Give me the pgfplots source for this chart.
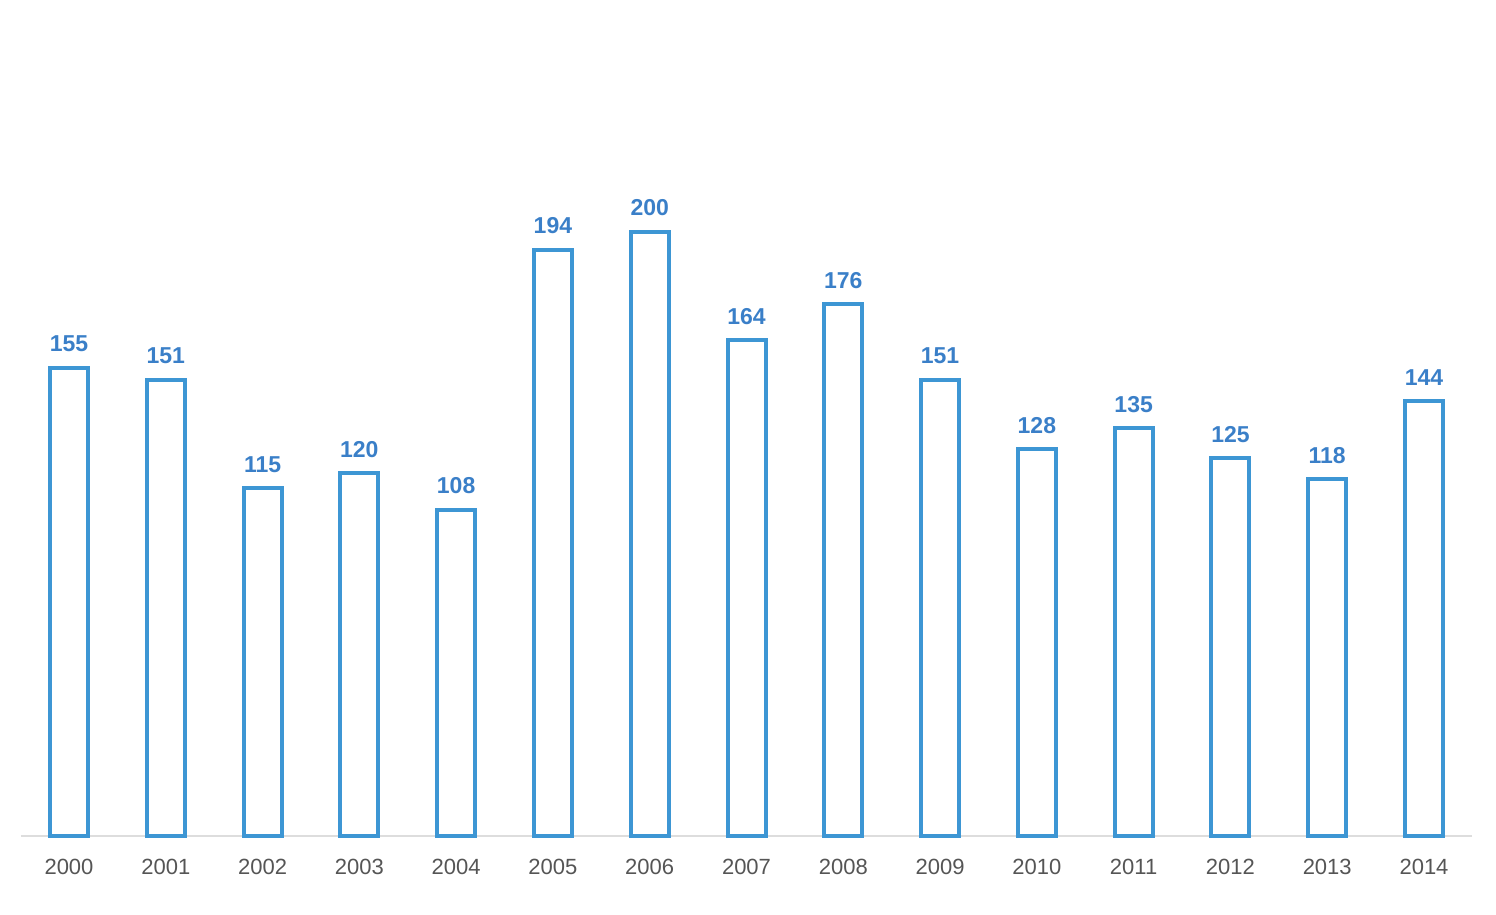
\documentclass[border=0pt]{standalone}
\usepackage{pgfplots}
\pgfplotsset{compat=1.18}
\usepackage{fontspec}
\setmainfont{Liberation Sans}
\definecolor{barblue}{HTML}{3D96D4}
\definecolor{lblblue}{HTML}{3A7FC8}
\definecolor{ticktext}{HTML}{555555}
\definecolor{axisgray}{HTML}{DDDDDD}
\begin{document}
\begin{tikzpicture}
\useasboundingbox (0,0) rectangle (748pt,457.5pt);
\begin{axis}[
  at={(10.3pt,39.5pt)}, anchor=south west,
  scale only axis, width=725.9pt, height=415.5pt,
  xmin=-0.5, xmax=14.5, ymin=0, ymax=275,
  axis x line=bottom, axis y line=none,
  x axis line style={-, axisgray, line width=0.8pt},
  xtick=data,
  xticklabels={2000,2001,2002,2003,2004,2005,2006,2007,2008,2009,2010,2011,2012,2013,2014},
  xticklabel style={font=\fontsize{11}{13}\selectfont, text=ticktext, yshift=-8pt},
  major tick length=0pt,
  /pgf/number format/assume math mode=true,
  ybar, bar width=19pt, bar shift=0pt,
  nodes near coords,
  every node near coord/.append style={font=\bfseries\fontsize{11.5}{13}\selectfont, text=lblblue, yshift=3.5pt},
  clip=false,
]
\addplot[draw=barblue, fill=white, line width=2pt] coordinates {
(0,155) (1,151) (2,115) (3,120) (4,108) (5,194) (6,200) (7,164) (8,176) (9,151) (10,128) (11,135) (12,125) (13,118) (14,144)
};
\end{axis}
\end{tikzpicture}
\end{document}
